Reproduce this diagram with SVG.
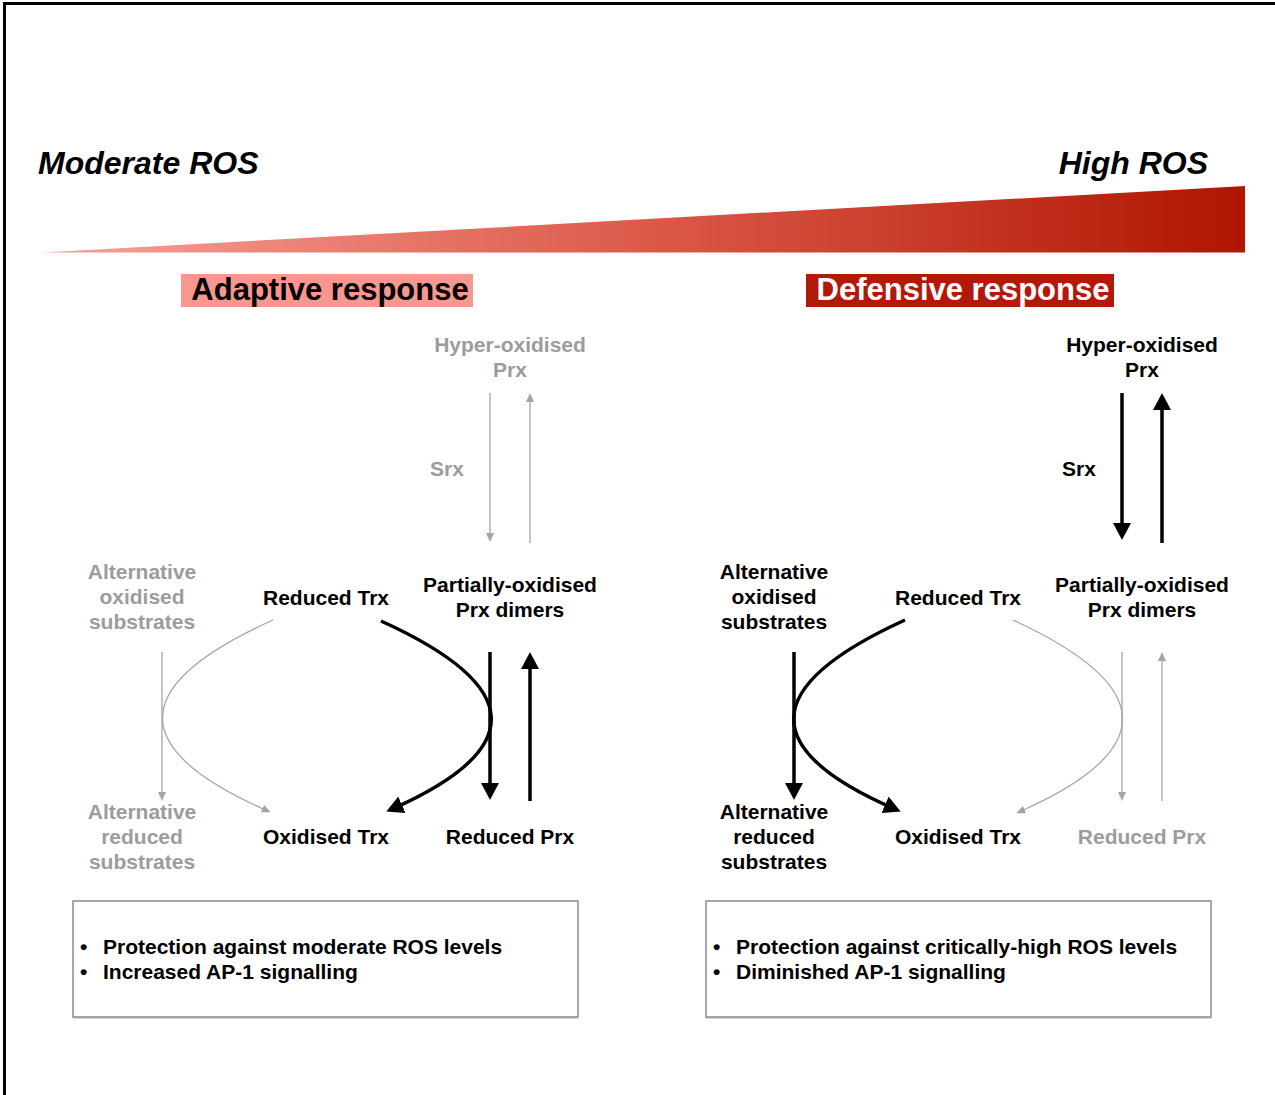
<svg xmlns="http://www.w3.org/2000/svg" width="1275" height="1095" viewBox="0 0 1275 1095">
<defs>
<linearGradient id="ros" x1="42" y1="0" x2="1245" y2="0" gradientUnits="userSpaceOnUse">
<stop offset="0" stop-color="#f8a198"/>
<stop offset="0.5" stop-color="#dc5a4a"/>
<stop offset="1" stop-color="#b01500"/>
</linearGradient>
<marker id="ab" markerUnits="userSpaceOnUse" markerWidth="18" markerHeight="18" viewBox="0 0 18 18" refX="13" refY="9" orient="auto">
<path d="M0,0 L17,9 L0,18 z" fill="#000"/>
</marker>
<marker id="ag" markerUnits="userSpaceOnUse" markerWidth="9" markerHeight="8" viewBox="0 0 9 8" refX="6" refY="4" orient="auto">
<path d="M0,0 L9,4 L0,8 z" fill="#a5a5a5"/>
</marker>
</defs>
<style>
text{font-family:"Liberation Sans",Arial,sans-serif;font-weight:bold;}
.n{font-size:21px;text-anchor:middle;fill:#000;}
.g{fill:#9c9c9c;}
.hdr{font-size:32px;font-style:italic;}
.ttl{font-size:31px;text-anchor:middle;}
.bl{font-size:21px;fill:#000;}
.bk{fill:none;stroke:#000;stroke-width:3.5;}
.gr{fill:none;stroke:#a5a5a5;stroke-width:1.3;}
.box{fill:#fff;stroke:#8a8a8a;stroke-width:1.5;}
</style>
<rect width="1275" height="1095" fill="#fff"/>
<path d="M4.5,1095 V3.5 H1275" fill="none" stroke="#000" stroke-width="3"/>

<g id="header">
<text class="hdr" x="38" y="174">Moderate ROS</text>
<text class="hdr" x="1208" y="174" text-anchor="end">High ROS</text>
<polygon points="42,252.5 1245,186 1245,252.5" fill="url(#ros)"/>
</g>

<g id="adaptive-title">
<rect x="181" y="274" width="292" height="33" fill="#f8978d"/>
<text class="ttl" x="330" y="300" fill="#000">Adaptive response</text>
</g>
<g id="defensive-title">
<rect x="806" y="274" width="308" height="33" fill="#b2190b"/>
<text class="ttl" x="963" y="300" fill="#fff">Defensive response</text>
</g>

<!-- Left panel nodes -->
<g id="L-hyper"><text class="n g" x="510" y="352">Hyper-oxidised</text><text class="n g" x="510" y="377">Prx</text></g>
<g id="L-srx"><text class="n g" x="447" y="476">Srx</text></g>
<g id="L-partial"><text class="n" x="510" y="592">Partially-oxidised</text><text class="n" x="510" y="617">Prx dimers</text></g>
<g id="L-redtrx"><text class="n" x="326" y="605">Reduced Trx</text></g>
<g id="L-altox"><text class="n g" x="142" y="579">Alternative</text><text class="n g" x="142" y="604">oxidised</text><text class="n g" x="142" y="629">substrates</text></g>
<g id="L-altred"><text class="n g" x="142" y="819">Alternative</text><text class="n g" x="142" y="844">reduced</text><text class="n g" x="142" y="869">substrates</text></g>
<g id="L-oxtrx"><text class="n" x="326" y="844">Oxidised Trx</text></g>
<g id="L-redprx"><text class="n" x="510" y="844">Reduced Prx</text></g>

<!-- Right panel nodes -->
<g id="R-hyper"><text class="n" x="1142" y="352">Hyper-oxidised</text><text class="n" x="1142" y="377">Prx</text></g>
<g id="R-srx"><text class="n" x="1079" y="476">Srx</text></g>
<g id="R-partial"><text class="n" x="1142" y="592">Partially-oxidised</text><text class="n" x="1142" y="617">Prx dimers</text></g>
<g id="R-redtrx"><text class="n" x="958" y="605">Reduced Trx</text></g>
<g id="R-altox"><text class="n" x="774" y="579">Alternative</text><text class="n" x="774" y="604">oxidised</text><text class="n" x="774" y="629">substrates</text></g>
<g id="R-altred"><text class="n" x="774" y="819">Alternative</text><text class="n" x="774" y="844">reduced</text><text class="n" x="774" y="869">substrates</text></g>
<g id="R-oxtrx"><text class="n" x="958" y="844">Oxidised Trx</text></g>
<g id="R-redprx"><text class="n g" x="1142" y="844">Reduced Prx</text></g>

<g id="connectors">
<!-- left -->
<path class="gr" d="M490,393 V539" marker-end="url(#ag)"/>
<path class="gr" d="M530,543 V396" marker-end="url(#ag)"/>
<path class="bk" d="M490,652 V796" marker-end="url(#ab)"/>
<path class="bk" d="M530,801 V656" marker-end="url(#ab)"/>
<path class="bk" d="M381,621 Q597,719 390,810" marker-end="url(#ab)"/>
<path class="gr" d="M273,620 Q54.5,718 268,811" marker-end="url(#ag)"/>
<path class="gr" d="M162,652 V798" marker-end="url(#ag)"/>
<!-- right -->
<path class="bk" d="M1122,393 V536" marker-end="url(#ab)"/>
<path class="bk" d="M1162,543 V397" marker-end="url(#ab)"/>
<path class="gr" d="M1122,652 V798" marker-end="url(#ag)"/>
<path class="gr" d="M1162,801 V655" marker-end="url(#ag)"/>
<path class="bk" d="M794,652 V796" marker-end="url(#ab)"/>
<path class="bk" d="M905,620 Q686.5,719.5 897,810" marker-end="url(#ab)"/>
<path class="gr" d="M1013,620 Q1229,719.5 1019,812" marker-end="url(#ag)"/>
</g>

<g id="L-summary">
<rect x="73" y="902" width="505" height="117" fill="#d8d8d8"/>
<rect class="box" x="73" y="901" width="505" height="116"/>
<text class="bl" x="80" y="954">•</text><text class="bl" x="103" y="954">Protection against moderate ROS levels</text>
<text class="bl" x="80" y="979">•</text><text class="bl" x="103" y="979">Increased AP-1 signalling</text>
</g>
<g id="R-summary">
<rect x="706" y="902" width="505" height="117" fill="#d8d8d8"/>
<rect class="box" x="706" y="901" width="505" height="116"/>
<text class="bl" x="713" y="954">•</text><text class="bl" x="736" y="954">Protection against critically-high ROS levels</text>
<text class="bl" x="713" y="979">•</text><text class="bl" x="736" y="979">Diminished AP-1 signalling</text>
</g>
</svg>
